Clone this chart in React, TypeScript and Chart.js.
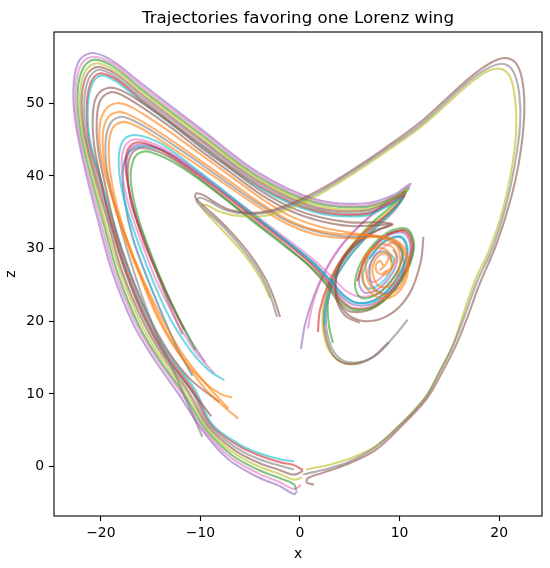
import React, { useEffect, useRef } from "react";
import { Chart, registerables } from "chart.js";

Chart.register(...registerables);

const titleText = "Trajectories favoring one Lorenz wing";
const xLabel = "x";
const zLabel = "z";
const xTicks = [-20, -10, 0, 10, 20];
const zTicks = [0, 10, 20, 30, 40, 50];
const xLimits = [-24.7, 24.3];
const zLimits = [-6.8, 59.8];

// ---- outer bundle (big left loop ending near the origin)
const A1 = [[0.1,16.2],[0.5,19.5],[1.4,23.5],[2.7,27.3],[4.5,31.0],[6.8,34.2],[9.2,37.0],[10.6,38.5],[11.1,38.9],[9.6,37.5],[6.5,36.2],[1.5,36.8],[-4.0,40.3],[-10.0,46.5],[-16.0,52.8],[-18.8,55.8],[-20.8,56.9],[-22.1,56.0],[-22.7,53.0],[-22.6,48.0],[-21.6,41.0],[-20.3,34.0],[-18.9,27.0],[-16.7,19.5],[-14.6,14.7],[-12.2,10.0],[-9.8,5.0],[-7.2,1.0],[-4.3,-1.4],[-2.0,-2.7],[-0.6,-3.8],[-0.3,-3.3]];
const A2 = [[0.8,19.0],[1.3,22.5],[2.3,26.3],[3.9,30.0],[6.2,33.4],[8.8,36.3],[10.4,37.9],[11.0,38.6],[9.5,37.2],[6.5,35.9],[1.5,36.5],[-4.0,40.0],[-10.0,46.2],[-16.0,52.4],[-18.75,55.4],[-20.7,56.4],[-21.9,55.5],[-22.5,52.5],[-22.4,47.5],[-21.4,40.85],[-20.06,33.9],[-18.65,27.0],[-16.4,19.5],[-14.3,14.7],[-11.9,10.1],[-9.65,5.1],[-7.0,1.3],[-4.25,-0.9],[-2.0,-2.15],[-0.6,-3.1],[0.1,-2.5]];
const A3 = [[3.3,17.0],[2.9,19.5],[2.8,22.5],[3.4,26.0],[4.8,29.6],[7.0,33.2],[9.3,36.0],[10.5,37.6],[10.9,38.3],[9.4,37.0],[6.5,35.7],[1.5,36.3],[-4.0,39.7],[-10.0,45.8],[-16.0,52.0],[-18.7,55.0],[-20.6,56.0],[-21.7,55.0],[-22.3,52.0],[-22.15,47.1],[-21.15,40.7],[-19.8,33.85],[-18.4,27.0],[-16.2,19.5],[-14.1,14.7],[-11.7,10.15],[-9.5,5.24],[-6.84,1.6],[-4.2,-0.44],[-2.0,-1.6],[-0.6,-2.45],[-0.4,-3.2]];
const A4 = [[6.2,14.4],[4.5,14.2],[3.0,15.8],[2.3,19.0],[2.4,22.5],[3.2,26.0],[4.8,29.8],[7.2,33.3],[9.5,35.9],[10.74,38.05],[9.3,36.8],[6.5,35.4],[1.5,36.0],[-4.0,39.4],[-10.0,45.5],[-16.0,51.7],[-18.67,54.54],[-20.44,55.5],[-21.56,54.4],[-22.07,51.4],[-21.9,46.65],[-20.9,40.55],[-19.6,33.8],[-18.1,27.0],[-15.9,19.5],[-13.8,14.7],[-11.4,10.2],[-9.35,5.36],[-6.66,1.9],[-4.17,0.04],[-2.0,-1.04],[-0.6,-1.8],[0.2,-1.5]];
const A5 = [[8.9,17.1],[7.0,14.8],[5.0,14.1],[3.4,15.2],[2.5,18.5],[2.5,22.0],[3.3,25.8],[5.0,29.5],[7.4,33.0],[9.5,35.5],[10.62,37.76],[9.2,36.6],[6.5,35.2],[1.5,35.7],[-4.0,39.1],[-10.0,45.1],[-16.0,51.3],[-18.6,54.1],[-20.3,55.0],[-21.4,53.9],[-21.9,50.9],[-21.7,46.2],[-20.7,40.4],[-19.3,33.7],[-17.9,27.0],[-15.6,19.5],[-13.5,14.7],[-11.2,10.3],[-9.2,5.5],[-6.5,2.2],[-4.1,0.5],[-2.0,-0.5],[-0.6,-1.1],[0.3,-0.6]];
const A6 = [[10.8,20.2],[9.5,18.0],[7.5,15.2],[5.2,14.3],[3.6,15.4],[2.7,18.5],[2.7,22.0],[3.5,25.7],[5.2,29.3],[7.5,32.7],[9.4,35.1],[10.5,37.5],[9.1,36.3],[6.5,34.9],[1.5,35.45],[-4.0,38.8],[-10.0,44.8],[-16.0,50.9],[-18.6,53.7],[-20.2,54.6],[-21.2,53.4],[-21.65,50.4],[-21.5,45.75],[-20.5,40.25],[-19.1,33.6],[-17.6,27.0],[-15.35,19.5],[-13.25,14.7],[-10.9,10.4],[-9.05,5.6],[-6.3,2.5],[-4.1,1.0],[-2.0,0.1],[-0.6,-0.4]];
const A7 = [[1.8,18.5],[2.0,21.5],[2.8,25.0],[4.3,28.8],[6.6,32.3],[9.0,35.0],[10.4,37.2],[9.0,36.1],[6.5,34.7],[1.5,35.2],[-4.0,38.5],[-10.0,44.4],[-16.0,50.55],[-18.5,53.3],[-20.1,54.1],[-21.0,52.85],[-21.4,49.85],[-21.25,45.3],[-20.25,40.1],[-18.9,33.55],[-17.4,27.0],[-15.1,19.5],[-13.0,14.7],[-10.7,10.45],[-8.9,5.7],[-6.1,2.8],[-4.0,1.5],[-2.0,0.6],[-0.6,0.2],[0.3,-0.5]];
const A8 = [[2.5,19.5],[2.6,22.3],[3.4,25.5],[5.0,29.0],[7.2,32.4],[9.2,35.0],[10.3,37.0],[8.9,35.9],[6.5,34.5],[1.5,35.0],[-4.0,38.3],[-10.0,44.2],[-16.0,50.3],[-18.5,53.0],[-20.0,53.8],[-20.9,52.5],[-21.3,49.5],[-21.1,45.0],[-20.1,40.0],[-18.7,33.5],[-17.2,27.0],[-14.9,19.5],[-12.8,14.7],[-10.5,10.5],[-8.8,5.8],[-6.0,3.0],[-4.0,1.8],[-2.0,1.0],[-0.6,0.7]];

// ---- second loop (brown)
const B1 = [[12.4,31.6],[12.1,28.0],[11.0,23.8],[9.0,20.9],[6.5,20.0],[4.5,21.3],[3.6,24.3],[4.0,27.8],[5.5,30.6],[7.8,32.6],[9.3,33.3],[8.0,33.6],[5.0,33.6],[2.0,34.3],[-1.0,35.7],[-4.0,38.0],[-7.0,41.0],[-10.0,44.0],[-13.0,47.3],[-15.8,50.0],[-18.0,51.8],[-19.3,52.1],[-20.4,51.0],[-20.8,48.5],[-20.7,44.5],[-20.0,39.5],[-18.9,33.0],[-17.4,26.5],[-15.6,20.5],[-13.6,15.5],[-11.3,11.2],[-8.9,6.9]];
const B2 = [[6.0,19.8],[4.5,20.8],[3.6,23.5],[3.8,27.0],[5.2,30.0],[7.5,32.3],[9.2,33.3],[7.8,33.2],[5.0,33.1],[2.0,33.8],[-1.0,35.2],[-4.0,37.5],[-7.0,40.5],[-10.0,43.5],[-13.0,46.7],[-15.8,49.4],[-18.0,51.2],[-19.0,51.5],[-20.0,50.5],[-20.4,48.0],[-20.3,44.0],[-19.6,39.0],[-18.5,32.5],[-17.0,26.5],[-15.3,21.0],[-13.3,16.0],[-11.0,12.0],[-8.1,8.9]];

// ---- middle loops (orange / gray)
const C1 = [[8.0,27.0],[8.6,27.8],[8.9,28.9],[8.3,29.3],[7.5,28.3],[7.3,26.5],[8.0,24.8],[9.2,25.0],[10.0,27.3],[9.8,30.2],[8.5,31.3],[6.8,31.8],[4.5,32.3],[2.0,33.0],[-1.0,34.5],[-4.0,37.0],[-7.0,40.0],[-10.0,43.0],[-13.0,46.0],[-15.5,48.3],[-17.3,49.7],[-18.4,50.0],[-19.5,49.2],[-20.1,47.0],[-20.0,43.0],[-19.1,38.0],[-17.7,32.0],[-16.0,26.0],[-14.3,20.5],[-12.3,15.8],[-9.9,12.0],[-8.0,10.0],[-6.8,9.5]];
const C2 = [[8.3,26.6],[9.3,27.5],[9.6,29.6],[8.6,30.6],[7.2,29.9],[6.6,27.5],[7.2,24.6],[8.8,23.6],[10.3,25.3],[10.7,28.5],[9.6,31.0],[7.6,31.8],[5.0,31.9],[2.0,32.4],[-1.0,33.8],[-4.0,36.3],[-7.0,39.2],[-10.0,42.1],[-13.0,45.0],[-15.5,47.2],[-17.3,48.5],[-18.3,48.8],[-19.3,48.0],[-19.8,45.7],[-19.6,41.5],[-18.7,36.5],[-17.2,30.5],[-15.5,25.0],[-13.7,20.0],[-11.8,15.5],[-9.6,11.6],[-7.2,8.0]];
const C3 = [[9.2,28.2],[8.7,29.5],[7.6,29.2],[7.0,27.0],[7.4,24.6],[8.8,23.8],[10.0,25.5],[10.4,28.6],[9.4,31.0],[7.5,31.7],[5.0,31.6],[2.0,32.2],[-1.0,33.6],[-4.0,36.0],[-7.0,38.8],[-10.0,41.7],[-13.0,44.5],[-15.5,46.7],[-17.2,47.9],[-18.1,48.1],[-19.0,47.3],[-19.5,45.0],[-19.4,41.0],[-18.6,36.0],[-17.4,30.0],[-16.0,24.0],[-14.5,18.5],[-12.8,13.5],[-11.2,8.5],[-9.8,4.1]];
const C4 = [[8.4,27.6],[8.0,28.3],[7.6,27.6],[7.9,26.6],[8.7,26.5],[9.2,27.7],[8.9,29.5],[7.8,30.1],[6.6,29.2],[6.2,26.8],[6.9,24.2],[8.6,23.1],[10.2,24.5],[10.9,27.8],[10.2,30.6],[8.3,31.6],[5.5,31.4],[2.0,31.8],[-1.0,33.2],[-4.0,35.6],[-7.0,38.4],[-10.0,41.2],[-13.0,44.0],[-15.4,46.1],[-17.0,47.2],[-17.9,47.4],[-18.8,46.6],[-19.2,44.2],[-19.0,40.0],[-18.2,35.0],[-16.9,29.5],[-15.3,24.0],[-13.6,19.0],[-11.6,14.5],[-9.4,10.5],[-7.5,8.1],[-6.2,6.6]];

// ---- inner loops (spiral around the right wing first)
const D1 = [[9.8,30.75],[10.32,29.2],[9.54,26.28],[7.81,23.76],[6.11,23.25],[5.52,25.35],[6.52,29.02],[8.68,32.12],[10.75,32.69],[11.45,30.1],[10.2,25.7],[7.64,22.11],[5.3,21.6],[4.0,22.8],[2.8,25.0],[1.0,27.6],[-1.5,30.3],[-4.5,33.5],[-7.5,36.8],[-10.5,39.9],[-13.0,42.1],[-14.8,43.2],[-15.9,43.3],[-16.7,42.3],[-17.0,39.5],[-16.3,34.5],[-14.9,29.0],[-13.4,24.0],[-12.0,20.0],[-10.5,16.0]];
const D2 = [[9.07,29.27],[9.44,28.49],[9.04,26.74],[7.94,25.02],[6.75,24.55],[6.26,25.94],[6.94,28.64],[8.57,31.08],[10.23,31.63],[10.81,29.59],[9.84,26.02],[7.73,22.99],[5.73,22.48],[4.3,23.5],[3.0,25.6],[1.2,28.2],[-1.5,31.2],[-4.5,34.5],[-7.5,37.8],[-10.5,41.0],[-13.2,43.8],[-15.2,45.2],[-16.9,45.6],[-17.9,44.5],[-18.2,41.5],[-17.7,37.0],[-16.3,31.0],[-14.6,25.0],[-12.9,20.0],[-11.0,16.0],[-9.2,13.3],[-7.6,11.9]];
const D3 = [[8.73,27.02],[8.03,25.85],[7.18,25.43],[6.79,26.37],[7.25,28.36],[8.49,30.25],[9.8,30.75],[10.32,29.2],[9.52,26.3],[7.82,23.87],[6.17,23.37],[4.8,24.0],[3.4,25.8],[1.5,28.3],[-1.3,31.3],[-4.4,34.5],[-7.4,37.6],[-10.4,40.7],[-13.1,43.3],[-15.0,44.6],[-16.6,45.0],[-17.6,44.0],[-17.9,41.3],[-17.3,36.5],[-15.9,30.8],[-14.3,25.2],[-12.5,20.3],[-10.7,16.2],[-8.6,12.8]];
const D4 = [[5.73,25.52],[6.65,28.91],[8.64,31.79],[10.58,32.34],[11.24,29.93],[10.09,25.79],[7.66,22.33],[5.39,21.78],[4.1,23.0],[2.9,25.2],[1.1,27.9],[-1.5,30.9],[-4.5,34.1],[-7.5,37.3],[-10.5,40.4],[-13.1,42.9],[-14.9,44.2],[-16.4,44.6],[-17.3,43.6],[-17.5,41.0],[-16.9,36.5],[-15.7,31.0],[-14.1,26.0],[-12.6,21.5],[-11.6,18.8]];
const D5 = [[9.36,29.86],[9.79,28.77],[9.25,26.55],[7.89,24.47],[6.46,23.96],[5.91,25.66],[6.73,28.83],[8.62,31.57],[10.46,32.1],[11.09,29.82],[9.99,25.88],[7.7,22.66],[5.59,22.19],[4.2,23.3],[3.0,25.4],[1.2,28.0],[-1.4,31.0],[-4.4,34.2],[-7.4,37.4],[-10.4,40.5],[-13.0,43.0],[-14.8,44.1],[-16.3,44.3],[-17.2,43.3],[-17.4,40.6],[-16.8,36.0],[-15.4,30.5],[-13.9,25.3],[-12.3,20.6],[-10.8,17.0],[-9.5,14.3]];
const D6 = [[6.94,28.64],[8.56,31.02],[10.17,31.51],[10.74,29.54],[9.8,26.06],[7.74,23.1],[5.76,22.54],[4.4,23.6],[3.1,25.6],[1.3,28.1],[-1.4,31.1],[-4.4,34.3],[-7.4,37.5],[-10.4,40.6],[-13.0,43.0],[-14.8,43.9],[-16.2,44.0],[-17.3,43.0],[-17.8,40.5],[-17.6,36.5],[-16.8,31.5],[-15.5,26.5],[-14.0,21.5],[-12.4,16.5],[-10.8,12.5]];
const D7 = [[8.66,31.9],[10.67,32.52],[11.38,30.05],[10.2,25.7],[7.63,22.0],[5.15,21.3],[3.9,22.6],[2.7,24.9],[0.9,27.6],[-1.6,30.6],[-4.6,33.8],[-7.6,37.0],[-10.6,40.2],[-13.1,42.6],[-14.8,43.6],[-16.1,43.8],[-17.0,42.8],[-17.3,40.2],[-16.9,36.0],[-15.6,31.0],[-14.2,26.0],[-12.9,21.5],[-11.8,18.2]];

// ---- trajectories that take the right wing
const R1 = [[-2.0,20.6],[-2.7,23.5],[-3.6,26.2],[-5.2,29.5],[-7.5,33.1],[-9.6,35.8],[-10.5,37.0],[-10.4,37.6],[-9.5,37.2],[-8.5,36.3],[-7.0,35.3],[-5.0,34.9],[-3.0,35.2],[-0.5,36.4],[2.0,38.1],[5.0,40.6],[8.5,43.8],[12.0,47.3],[15.0,51.0],[17.5,54.0],[19.5,55.8],[20.8,56.2],[21.8,55.3],[22.4,52.5],[22.5,48.0],[22.0,42.0],[21.1,36.5],[19.7,30.5],[18.0,25.0],[16.8,20.5],[15.6,16.5],[14.2,12.8],[12.7,9.3],[10.2,5.6],[7.5,2.2],[4.5,0.2],[2.2,-0.9],[0.8,-1.6],[0.7,-2.2],[1.4,-2.5]];
const R2 = [[-2.3,20.6],[-3.0,23.6],[-3.9,26.3],[-5.5,29.5],[-7.7,33.0],[-9.7,35.5],[-10.4,36.6],[-10.0,37.0],[-9.0,36.4],[-7.5,35.3],[-5.5,34.8],[-3.0,35.0],[-0.5,36.1],[2.0,37.8],[5.0,40.3],[8.5,43.5],[12.0,46.9],[15.0,50.6],[17.4,53.5],[19.3,55.1],[20.5,55.4],[21.4,54.4],[22.0,51.5],[22.1,47.0],[21.5,41.0],[20.6,35.5],[19.3,30.0],[17.8,25.5],[16.6,21.0],[15.4,16.8],[14.0,13.0],[12.6,9.5],[10.2,5.9],[7.5,2.6],[4.8,0.6],[2.5,-0.4],[0.9,-0.9],[0.3,-1.1]];
const R3 = [[-3.0,23.2],[-4.0,26.0],[-5.6,29.2],[-7.7,32.4],[-9.3,34.7],[-9.9,35.8],[-9.4,36.0],[-8.3,35.2],[-6.8,34.6],[-4.8,34.4],[-2.8,34.7],[-0.5,35.8],[2.0,37.5],[5.0,40.0],[8.5,43.2],[12.0,46.6],[15.0,50.2],[17.3,53.0],[19.0,54.5],[20.2,54.7],[21.1,53.6],[21.6,50.6],[21.7,46.0],[21.2,40.5],[20.3,35.0],[19.0,29.8],[17.6,25.7],[16.4,21.0],[15.3,16.5],[14.0,13.0],[12.6,9.6],[10.2,6.0],[7.6,2.8],[5.0,1.1],[2.5,0.1],[0.6,-0.4]];

const trajectories = [R1, R2, R3, C1, C2, C3, C4, B1, B2, D1, D2, D3, D4, D5, D6, D7, A8, A7, A6, A5, A4, A3, A2, A1];

const palette = {
  blue: "31,119,180",
  orange: "255,127,14",
  green: "44,160,44",
  red: "214,39,40",
  purple: "148,103,189",
  brown: "140,86,75",
  pink: "227,119,194",
  gray: "127,127,127",
  olive: "188,189,34",
  cyan: "23,190,207",
};
const trajectoryColors = [
  palette.brown, palette.gray, palette.olive,
  palette.orange, palette.orange, palette.gray, palette.orange,
  palette.brown, palette.brown,
  palette.green, palette.cyan, palette.pink, palette.red, palette.purple, palette.blue, palette.brown,
  palette.cyan, palette.red, palette.gray, palette.brown, palette.olive, palette.green, palette.pink, palette.purple,
];

const FONT = "'DejaVu Sans', sans-serif";
const fmt = (v: number) => (v < 0 ? "\u2212" + Math.abs(v) : String(v));

const framePlugin = {
  id: "frameAndTitle",
  afterDraw(chart: any) {
    const { ctx, chartArea } = chart;
    const { left, right, top, bottom } = chartArea;
    ctx.save();
    ctx.strokeStyle = "#000";
    ctx.lineWidth = 1.1;
    ctx.strokeRect(left, top, right - left, bottom - top);
    ctx.fillStyle = "#000";
    ctx.font = `16.7px ${FONT}`;
    ctx.textAlign = "center";
    ctx.textBaseline = "alphabetic";
    ctx.fillText(titleText, (left + right) / 2, 23);
    ctx.restore();
  },
};

export default function App() {
  const ref = useRef<HTMLCanvasElement>(null);
  useEffect(() => {
    if (!ref.current) return;
    const datasets = trajectories.map((t, i) => ({
      data: t.map(([x, z]) => ({ x, y: z })),
      showLine: true,
      borderColor: `rgba(${trajectoryColors[i]},0.6)`,
      backgroundColor: `rgba(${trajectoryColors[i]},0.6)`,
      borderWidth: 2.1,
      pointRadius: 0,
      tension: 0.35,
      fill: false,
    }));
    const tickFont = { family: FONT, size: 13.9 };
    const chart = new Chart(ref.current, {
      type: "scatter",
      data: { datasets },
      plugins: [framePlugin],
      options: {
        responsive: false,
        animation: false,
        events: [],
        layout: { padding: { top: 32, right: 8, left: 0, bottom: 0 } },
        plugins: { legend: { display: false }, tooltip: { enabled: false }, title: { display: false } },
        scales: {
          x: {
            type: "linear",
            min: xLimits[0],
            max: xLimits[1],
            afterBuildTicks: (s: any) => { s.ticks = xTicks.map((v) => ({ value: v })); },
            afterFit: (s: any) => { s.height = 52; },
            grid: { drawOnChartArea: false, drawTicks: true, tickLength: 5, tickColor: "#000", tickWidth: 1.1 },
            border: { display: false },
            ticks: { color: "#000", font: tickFont, padding: 4, maxRotation: 0, autoSkip: false, callback: (v: any) => fmt(Number(v)) },
            title: { display: true, text: xLabel, color: "#000", font: tickFont, padding: { top: 0, bottom: 5 } },
          },
          y: {
            type: "linear",
            min: zLimits[0],
            max: zLimits[1],
            afterBuildTicks: (s: any) => { s.ticks = zTicks.map((v) => ({ value: v })); },
            afterFit: (s: any) => { s.width = 54; },
            grid: { drawOnChartArea: false, drawTicks: true, tickLength: 5, tickColor: "#000", tickWidth: 1.1 },
            border: { display: false },
            ticks: { color: "#000", font: tickFont, padding: 5, autoSkip: false, callback: (v: any) => fmt(Number(v)) },
            title: { display: true, text: zLabel, color: "#000", font: tickFont, padding: { top: 3, bottom: 0 } },
          },
        },
      },
    } as any);
    return () => chart.destroy();
  }, []);
  return (
    <div style={{ position: "fixed", left: 0, top: 0, width: 550, height: 568, background: "#fff" }}>
      <canvas ref={ref} width={550} height={568} style={{ display: "block" }} />
    </div>
  );
}
